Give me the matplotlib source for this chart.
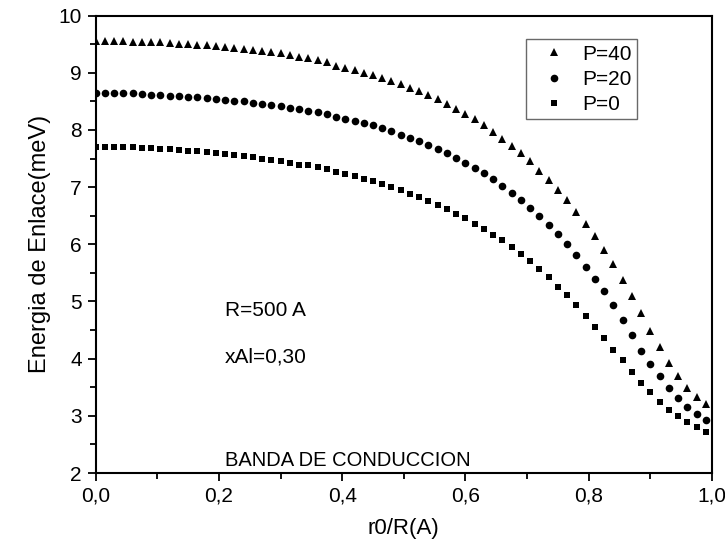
import numpy as np
import matplotlib
matplotlib.use("Agg")
import matplotlib.pyplot as plt
from matplotlib.ticker import MultipleLocator, FuncFormatter

plt.rcParams['font.family'] = ['Liberation Sans', 'DejaVu Sans']

# r0/R positions (67 evenly spaced points)
r0 = np.linspace(0, 0.99, 67)

# binding energies (meV)
e_p40 = [9.55, 9.55, 9.55, 9.55, 9.54, 9.54, 9.53, 9.53, 9.52, 9.51, 9.50, 9.49,
         9.48, 9.47, 9.45, 9.44, 9.42, 9.40, 9.38, 9.37, 9.34, 9.31, 9.28, 9.25, 9.22, 9.18,
         9.12, 9.08, 9.04, 9.00, 8.96, 8.91, 8.86, 8.80, 8.74, 8.68, 8.61, 8.54, 8.46, 8.37,
         8.28, 8.19, 8.09, 7.97, 7.85, 7.72, 7.59, 7.45, 7.29, 7.13, 6.95, 6.78, 6.57, 6.35,
         6.15, 5.90, 5.65, 5.37, 5.10, 4.80, 4.49, 4.20, 3.93, 3.69, 3.48, 3.33, 3.21]
e_p20 = [8.65, 8.65, 8.65, 8.64, 8.64, 8.63, 8.62, 8.61, 8.60, 8.59, 8.58, 8.57,
         8.56, 8.55, 8.53, 8.51, 8.50, 8.48, 8.46, 8.44, 8.42, 8.39, 8.36, 8.34, 8.31, 8.28,
         8.23, 8.20, 8.16, 8.12, 8.08, 8.03, 7.98, 7.92, 7.86, 7.80, 7.73, 7.66, 7.60, 7.51,
         7.43, 7.33, 7.25, 7.14, 7.02, 6.90, 6.78, 6.64, 6.49, 6.33, 6.18, 6.00, 5.82, 5.61,
         5.39, 5.18, 4.93, 4.68, 4.41, 4.14, 3.91, 3.69, 3.48, 3.31, 3.16, 3.04, 2.93]
e_p0 = [7.71, 7.71, 7.71, 7.70, 7.70, 7.69, 7.68, 7.67, 7.66, 7.65, 7.64, 7.63,
        7.62, 7.60, 7.58, 7.56, 7.54, 7.52, 7.50, 7.48, 7.45, 7.42, 7.39, 7.38, 7.35, 7.32,
        7.27, 7.23, 7.19, 7.15, 7.10, 7.05, 7.00, 6.95, 6.88, 6.82, 6.76, 6.69, 6.61, 6.53,
        6.46, 6.36, 6.27, 6.17, 6.07, 5.95, 5.83, 5.70, 5.56, 5.42, 5.26, 5.11, 4.93, 4.75,
        4.56, 4.37, 4.16, 3.97, 3.77, 3.57, 3.41, 3.25, 3.10, 2.99, 2.89, 2.80, 2.72]

fig = plt.figure(figsize=(7.25, 5.42), dpi=100)
ax = fig.add_axes([0.132, 0.1273, 0.850, 0.8439])

ax.plot(r0, e_p40, '^', color='black', ms=6, mew=0, label='P=40')
ax.plot(r0, e_p20, 'o', color='black', ms=5.5, mew=0, label='P=20')
ax.plot(r0, e_p0, 's', color='black', ms=5, mew=0, label='P=0')

ax.set_xlim(0, 1.0)
ax.set_ylim(2, 10)
ax.xaxis.set_major_locator(MultipleLocator(0.2))
ax.xaxis.set_minor_locator(MultipleLocator(0.1))
ax.yaxis.set_major_locator(MultipleLocator(1))
ax.yaxis.set_minor_locator(MultipleLocator(0.5))
ax.xaxis.set_major_formatter(FuncFormatter(lambda v, p: f"{v:.1f}".replace('.', ',')))
ax.yaxis.set_major_formatter(FuncFormatter(lambda v, p: f"{v:.0f}"))
ax.tick_params(which='both', direction='out', top=False, right=False, width=1.3,
               labelsize=15)
ax.tick_params(which='major', length=6, pad=4)
ax.tick_params(which='minor', length=4)
for s in ax.spines.values():
    s.set_linewidth(1.5)

ax.set_xlabel('r0/R(A)', fontsize=16, labelpad=9)
ax.set_ylabel('Energia de Enlace(meV)', fontsize=17, labelpad=5)

ax.text(0.21, 4.85, 'R=500 A', fontsize=15, va='center')
ax.text(0.21, 4.03, 'xAl=0,30', fontsize=15, va='center')
ax.text(0.21, 2.22, 'BANDA DE CONDUCCION', fontsize=14.5, va='center')

leg = ax.legend(loc='upper left', bbox_to_anchor=(0.699, 0.948), numpoints=1,
                fancybox=False, edgecolor='#444444', fontsize=15, handletextpad=0.35,
                borderpad=0.25, labelspacing=0.3, handlelength=2.1, borderaxespad=0)
leg.get_frame().set_linewidth(1.0)

fig.savefig('out.png', dpi=100)
